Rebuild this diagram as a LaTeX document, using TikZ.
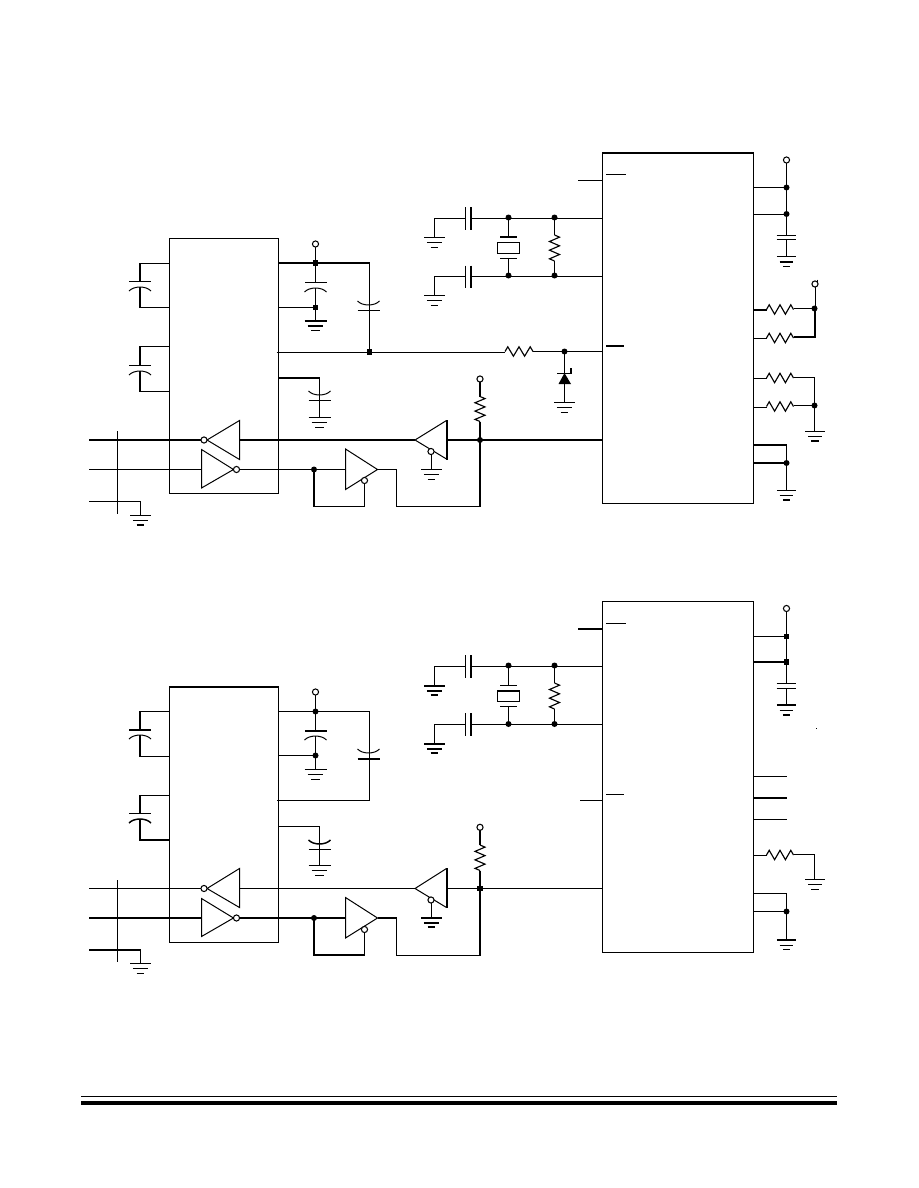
\documentclass[tikz,border=0pt]{standalone}
\usetikzlibrary{calc}
\tikzset{
  x=0.75pt,y=-0.75pt,
  tn/.style={line width=0.75pt},
  tk/.style={line width=1.5pt},
  every path/.style={line cap=butt,line join=miter},
  dotc/.style={circle,fill=black,inner sep=0pt,minimum size=4.5pt},
  dots/.style={rectangle,fill=black,inner sep=0pt,minimum size=3.8pt},
  bub/.style={circle,draw=black,fill=white,line width=0.8pt,inner sep=0pt,minimum size=4.6pt},
}
\newcommand{\Gnd}[6]{%
  \draw[line width=#4] (#1-#3,#2) -- (#1+#3,#2);
  \draw[line width=#5] (#1-0.72*#3,#2+5) -- (#1+0.72*#3,#2+5);
  \draw[line width=#6] (#1-0.38*#3,#2+9.5) -- (#1+0.38*#3,#2+9.5);
}
\def\TN{0.75pt}\def\TK{1.5pt}\def\TM{1.5pt}
\newcommand{\RV}[3]{%
  \draw[tn,line width=0.85pt] (#1,#2) -- (#1+5,{#2+(#3-#2)/12}) -- (#1-5,{#2+3*(#3-#2)/12}) -- (#1+5,{#2+5*(#3-#2)/12}) -- (#1-5,{#2+7*(#3-#2)/12}) -- (#1+5,{#2+9*(#3-#2)/12}) -- (#1-5,{#2+11*(#3-#2)/12}) -- (#1,#3);
}
\newcommand{\RH}[3]{%
  \draw[tn,line width=0.85pt] (#1,#3) -- ({#1+(#2-#1)/10},#3-4.7) -- ({#1+3*(#2-#1)/10},#3+4.7) -- ({#1+5*(#2-#1)/10},#3-4.7) -- ({#1+7*(#2-#1)/10},#3+4.7) -- ({#1+9*(#2-#1)/10},#3-4.7) -- (#2,#3);
}
\newcommand{\ArcD}[3]{\draw[line width=#3] (#1-11,#2+4.5) .. controls (#1-6,#2-0.8) and (#1+6,#2-0.8) .. (#1+11,#2+4.5);}
\newcommand{\ArcU}[3]{\draw[line width=#3] (#1-11,#2-4.5) .. controls (#1-6,#2+0.8) and (#1+6,#2+0.8) .. (#1+11,#2-4.5);}
\begin{document}
\begin{tikzpicture}
\useasboundingbox (0,0) rectangle (918,1188);
\fill[white] (0,0) rectangle (918,1188);
%%%%%%%%%%%%%%%%%%%%%%%%%%%% TOP CIRCUIT
\draw[tn] (169.5,238.5) rectangle (278.5,493.5);
\draw[tn] (169.5,263.5) -- (140,263.5);
\draw[tk] (140,263) -- (140,281.5);
\draw[tn] (129,281.5) -- (151,281.5);
\ArcD{140}{286.5}{\TN}
\draw[tk] (140,286.5) -- (140,308);
\draw[tn] (139,307.5) -- (169.5,307.5);
\draw[tn] (169.5,346.5) -- (140,346.5);
\draw[tk] (140,346) -- (140,365.5);
\draw[tn] (129,365.5) -- (151,365.5);
\ArcD{140}{370.5}{\TN}
\draw[tk] (140,370.5) -- (140,392);
\draw[tn] (139,391.5) -- (169.5,391.5);
% VCC cap
\draw[tn] (315.5,244) -- (315.5,282.5);
\draw[tn] (305,282.5) -- (327,282.5);
\ArcD{315.5}{287.5}{\TN}
\draw[tn] (315.5,287.5) -- (315.5,321);
\draw[tn] (278.5,307.5) -- (315.5,307.5);
\Gnd{315.5}{321}{11}{1.5pt}{1.1pt}{0.75pt}
\node[bub] (vt1) at (315.5,244) {};
\node[dots] at (315.5,263) {};
\node[dots] at (315.5,307.5) {};
\draw[tk] (278.5,263) -- (369.5,263);
\draw[tn] (369.5,263) -- (369.5,352);
\ArcU{368.5}{305.5}{\TN}
\draw[tn] (357.5,310.5) -- (379.5,310.5);
\draw[tn] (276.5,352.5) -- (505,352.5);
\node[dots] at (369.5,352) {};
\RH{505}{533}{351.5}
\draw[tn] (533,351.5) -- (602.5,351.5);
\node[dotc] at (564.5,351.5) {};
% zener
\draw[tn] (564.5,351.5) -- (564.5,402.5);
\fill (564.5,373) -- (571,384) -- (558.5,384) -- cycle;
\draw[line width=1.2pt] (557,373.5) -- (571,373.5) -- (571,368);
\Gnd{564.5}{402.5}{10.5}{\TN}{\TN}{\TN}
% lower cap
\draw[tk] (278.5,378) -- (320,378);
\draw[tn] (319.5,378) -- (319.5,417.5);
\ArcU{319.5}{395.5}{\TN}
\draw[tn] (308.5,400.5) -- (330.5,400.5);
\Gnd{319.5}{417.5}{11}{\TN}{\TN}{\TN}
% bus
\draw[tn] (117.5,431) -- (117.5,514);
\draw[tk] (89,440) -- (204,440);
\draw[tn] (239.5,420.5) -- (239.5,459.5) -- (207,440) -- cycle;
\node[bub] at (204,440) {};
\draw[tk] (239.5,440) -- (415,440);
\draw[tn] (89,469.5) -- (201.5,469.5);
\draw[tn] (201.5,449.5) -- (201.5,488) -- (233.5,469.5) -- cycle;
\node[bub] at (236.5,469.5) {};
\draw[tn] (238.5,469.5) -- (345.5,469.5);
\node[dotc] at (314,469.5) {};
\draw[tn] (345.5,449) -- (345.5,489.5) -- (377.5,469.5) -- cycle;
\draw[tn] (377.5,469.5) -- (396.5,469.5) -- (396.5,506.5) -- (480,506.5);
\draw[tn] (364.5,480.5) -- (364.5,506.5);
\draw[tk] (314,469.5) -- (314,506.5);
\draw[tn] (313,506.5) -- (364.5,506.5);
\node[bub] at (364.5,480.5) {};
\draw[tn] (89,501.5) -- (140.5,501.5) -- (140.5,515.5);
\Gnd{140.5}{515.5}{10.5}{\TN}{1.3pt}{1.5pt}
% right inverter
\draw[tn] (415,440) -- (446.5,420.5) (415,440) -- (446.5,459);
\draw[tk] (447,420) -- (447,459.5);
\draw[tn] (431.5,451.5) -- (431.5,469.5);
\node[bub] at (431,451.5) {};
\Gnd{431.5}{469.5}{10.5}{\TN}{\TN}{\TN}
\draw[tk] (447,440) -- (602.5,440);
\draw[tk] (480,440) -- (480,507);
\draw[tk] (480,382) -- (480,396.5);
\RV{480}{396.5}{421.5}
\draw[tk] (480,421.5) -- (480,440);
\node[bub] at (480,379) {};
\node[dotc] at (480,440) {};
% crystal network
\draw[tn] (578,180.5) -- (602.5,180.5);
\draw[tn] (434.5,237.5) -- (434.5,218.5) -- (465.5,218.5);
\draw[tn] (471,218.5) -- (602.5,218.5);
\draw[tn] (434.5,295.5) -- (434.5,276.5) -- (465.5,276.5);
\draw[tn] (471,276.5) -- (602.5,276.5);
\draw[tn] (465.5,207) -- (465.5,229.5);
\draw[tk] (471,207) -- (471,229.5);
\draw[tn] (465.5,265.5) -- (465.5,287.5);
\draw[tk] (471,265.5) -- (471,287.5);
\Gnd{434.5}{237.5}{10.5}{\TN}{\TN}{\TN}
\Gnd{434.5}{295.5}{10.5}{\TN}{\TN}{\TN}
\draw[tn] (508.5,217.5) -- (508.5,236.5);
\draw[tk] (500,237) -- (517,237);
\draw[tn] (497.5,242.5) rectangle (519.5,253.5);
\draw[tn] (500,258.5) -- (517,258.5);
\draw[tn] (508.5,258.5) -- (508.5,276);
\draw[tn] (554.5,217.5) -- (554.5,235);
\RV{554.5}{235}{261}
\draw[tn] (554.5,261) -- (554.5,276);
\node[dotc] at (508.5,217.5) {};
\node[dotc] at (554.5,217.5) {};
\node[dotc] at (508.5,275.5) {};
\node[dotc] at (554.5,275.5) {};
% right IC
\draw[tn] (602.5,153) -- (602.5,503.5) -- (753.5,503.5) -- (753.5,153);
\draw[tk] (602,153) -- (754,153);
\draw[tn] (606,174.5) -- (626,174.5);
\draw[tk] (606,346) -- (624,346);
% right side top
\draw[tn] (786.5,160) -- (786.5,235.5);
\draw[tn] (753.5,187.5) -- (786.5,187.5);
\draw[tn] (753.5,214.5) -- (786.5,214.5);
\draw[tn] (776.5,235.5) -- (796,235.5);
\draw[tn] (776.5,239.5) -- (796,239.5);
\draw[tn] (786.5,239.5) -- (786.5,256.5);
\Gnd{786.5}{256.5}{9.7}{\TN}{1.5pt}{\TN}
\node[bub] at (786.5,160) {};
\node[dotc] at (786.5,187.5) {};
\node[dotc] at (786.5,214) {};
\draw[tk] (753.5,310) -- (766.5,310);
\RH{766.5}{793.5}{309.5}
\draw[tn] (793.5,308.5) -- (814.5,308.5);
\draw[tn] (753.5,338.5) -- (766.5,338.5);
\RH{766.5}{793.5}{338}
\draw[tk] (793.5,337) -- (815,337) -- (815,308.5);
\draw[tn] (815.5,287) -- (815.5,308.5);
\draw[tn] (817.5,279.5) -- (817.5,282);
\node[bub] at (815,284) {};
\node[dotc] at (814.5,308.5) {};
\draw[tn] (753.5,378.5) -- (766.5,378.5);
\RH{766.5}{793.5}{378}
\draw[tn] (793.5,377.5) -- (814.5,377.5) -- (814.5,431.5);
\draw[tn] (753.5,407.5) -- (766.5,407.5);
\RH{766.5}{793.5}{406.5}
\draw[tn] (793.5,405.5) -- (814.5,405.5);
\node[dotc] at (814.5,405.5) {};
\Gnd{815}{431.5}{9.7}{\TN}{\TN}{1.5pt}
\draw[tk] (753.5,445) -- (787,445);
\draw[tk] (753.5,463) -- (786.5,463);
\draw[tn] (786.5,444) -- (786.5,490.5);
\node[dotc] at (786.5,463) {};
\Gnd{786.5}{490.5}{9.7}{\TN}{\TN}{1.5pt}
%%%%%%%%%%%%%%%%%%%%%%%%%%%% BOTTOM CIRCUIT
\begin{scope}[yshift=-336pt]
\draw[tn] (169.5,238.5) rectangle (278.5,494.5);
\draw[tk] (169,239) -- (279,239);
\draw[tn] (169.5,263.5) -- (140,263.5);
\draw[tk] (140,263) -- (140,282);
\draw[tk] (129,282) -- (151,282);
\ArcD{140}{286.5}{\TN}
\draw[tk] (140,286.5) -- (140,309);
\draw[tn] (139,308.5) -- (169.5,308.5);
\draw[tn] (169.5,347.5) -- (140,347.5);
\draw[tk] (140,347) -- (140,365.5);
\draw[tn] (129,365.5) -- (151,365.5);
\ArcD{140}{370.5}{1.1pt}
\draw[tk] (140,370.5) -- (140,392) -- (169.5,392);
\draw[tn] (315.5,244) -- (315.5,282.5);
\draw[tk] (305,283) -- (327,283);
\ArcD{315.5}{287.5}{\TN}
\draw[tn] (315.5,287.5) -- (315.5,321.5);
\draw[tn] (278.5,307.5) -- (315.5,307.5);
\Gnd{315.5}{321.5}{11}{\TN}{\TN}{\TN}
\node[bub] at (315.5,244) {};
\node[dotc] at (315.5,263.5) {};
\node[dotc] at (315.5,307.5) {};
\draw[tn] (278.5,263.5) -- (369.5,263.5) -- (369.5,352.5) -- (276.5,352.5);
\ArcU{368.5}{305.5}{\TN}
\draw[tk] (357.5,311) -- (379.5,311);
\draw[tn] (278.5,378.5) -- (319.5,378.5) -- (319.5,417.5);
\ArcU{319.5}{396.5}{1.1pt}
\draw[tn] (308.5,401.5) -- (330.5,401.5);
\Gnd{319.5}{417.5}{11}{\TN}{\TN}{\TN}
\draw[tn] (117.5,432) -- (117.5,514);
\draw[tn] (89,440.5) -- (204,440.5);
\draw[tn] (239.5,420.5) -- (239.5,459.5) -- (207,440.5) -- cycle;
\node[bub] at (204,440.5) {};
\draw[tn] (239.5,440.5) -- (415,440.5);
\draw[tk] (89,470) -- (201.5,470);
\draw[tn] (201.5,450.5) -- (201.5,488.5) -- (233.5,470) -- cycle;
\node[bub] at (236.5,470) {};
\draw[tk] (238.5,470) -- (345.5,470);
\node[dotc] at (314,470) {};
\draw[tn] (345.5,449.5) -- (345.5,490) -- (377.5,470) -- cycle;
\draw[tk] (377.5,470) -- (397,470);
\draw[tn] (396.5,470) -- (396.5,507.5) -- (480,507.5);
\draw[tn] (364.5,481.5) -- (364.5,507);
\draw[tk] (314,470) -- (314,507) -- (365,507);
\node[bub] at (364.5,481.5) {};
\draw[tk] (89,502) -- (140.5,502);
\draw[tn] (140.5,502) -- (140.5,515.5);
\Gnd{140.5}{515.5}{10.5}{\TN}{\TN}{\TN}
\draw[tn] (415,440.5) -- (446.5,420.5) (415,440.5) -- (446.5,459.5);
\draw[tk] (447,420) -- (447,460);
\draw[tn] (431.5,451.5) -- (431.5,469.5);
\node[bub] at (431,452) {};
\Gnd{431.5}{469.5}{10.5}{1.5pt}{1.5pt}{1.5pt}
\draw[tn] (447,440.5) -- (602.5,440.5);
\draw[tk] (480,440) -- (480,508);
\draw[tk] (480,382) -- (480,397);
\RV{480}{397}{422.5}
\draw[tk] (480,422.5) -- (480,440);
\node[bub] at (480,379.3) {};
\node[dots] at (480,440.5) {};
\draw[tk] (578,181) -- (602.5,181);
\draw[tn] (434.5,237.5) -- (434.5,218.5) -- (465.5,218.5);
\draw[tn] (471,218.5) -- (602.5,218.5);
\draw[tn] (434.5,295.5) -- (434.5,276.5) -- (465.5,276.5);
\draw[tn] (471,276.5) -- (602.5,276.5);
\draw[tn] (465.5,207) -- (465.5,230);
\draw[tk] (471,207) -- (471,230);
\draw[tn] (465.5,265) -- (465.5,288);
\draw[tk] (471,265) -- (471,288);
\Gnd{434.5}{237.5}{10.5}{1.5pt}{1.5pt}{1.5pt}
\Gnd{434.5}{295.5}{10.5}{1.5pt}{1.5pt}{1.5pt}
\draw[tn] (508.5,217.5) -- (508.5,237.5);
\draw[tn] (500,237.5) -- (517,237.5);
\draw[tn] (497.5,243) rectangle (519.5,253.5);
\draw[tk] (497,243) -- (520,243);
\draw[tn] (500,258.5) -- (517,258.5);
\draw[tn] (508.5,258.5) -- (508.5,276);
\draw[tn] (554.5,217.5) -- (554.5,235);
\RV{554.5}{235}{261}
\draw[tn] (554.5,261) -- (554.5,276);
\node[dotc] at (508.5,217.5) {};
\node[dotc] at (554.5,217.5) {};
\node[dotc] at (508.5,276) {};
\node[dotc] at (554.5,276) {};
\draw[tn] (602.5,153.5) rectangle (753.5,504.5);
\draw[tn] (606,175.5) -- (626,175.5);
\draw[tn] (606,346.5) -- (624,346.5);
\draw[tn] (580,352.5) -- (602.5,352.5);
\draw[tn] (786.5,160) -- (786.5,235.5);
\draw[tn] (753.5,188.5) -- (786.5,188.5);
\draw[tk] (753.5,214) -- (786.5,214);
\draw[tn] (776.5,235.5) -- (796,235.5);
\draw[tn] (776.5,240) -- (796,240);
\draw[tn] (786.5,240) -- (786.5,256.5);
\Gnd{786.5}{257}{9.7}{1.5pt}{\TN}{1.5pt}
\node[bub] at (786.5,160.5) {};
\node[dots] at (786.5,188.5) {};
\node[dots] at (786.5,214) {};
\fill (816.3,280) rectangle (817.3,281);
\draw[tn] (753.5,328.5) -- (786.5,328.5);
\draw[tk] (753.5,350) -- (786.5,350);
\draw[tn] (753.5,371.5) -- (786.5,371.5);
\draw[tn] (753.5,407.5) -- (766.5,407.5);
\RH{766.5}{793.5}{407}
\draw[tn] (793.5,406.5) -- (814.5,406.5) -- (814.5,431.5);
\Gnd{815}{431.5}{9.7}{\TN}{\TN}{\TN}
\draw[tn] (753.5,445.5) -- (786.5,445.5);
\draw[tn] (753.5,463.5) -- (786.5,463.5);
\draw[tn] (786.5,445.5) -- (786.5,492);
\node[dotc] at (786.5,463.5) {};
\Gnd{786.5}{492}{9.7}{1.5pt}{\TN}{\TN}
\end{scope}
% footer rule
\draw[line width=0.85pt] (81,1096.5) -- (836.5,1096.5);
\draw[line width=3pt] (81,1103) -- (836.5,1103);
\end{tikzpicture}
\end{document}
